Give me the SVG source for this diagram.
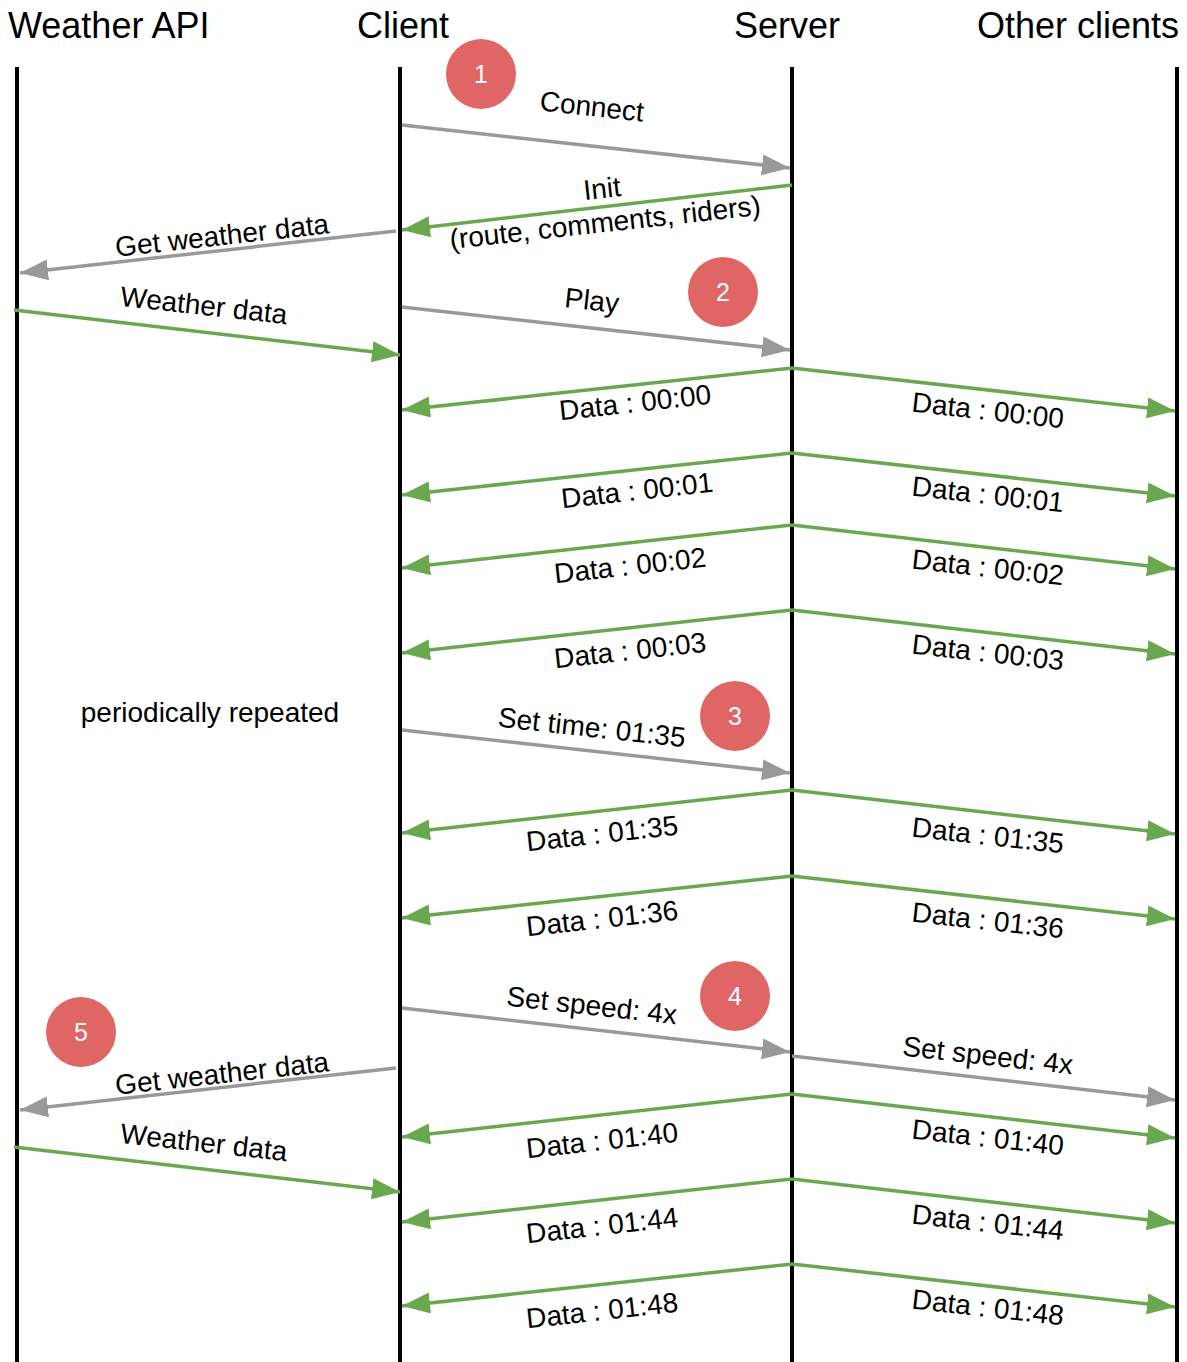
<svg xmlns="http://www.w3.org/2000/svg" width="1187" height="1362" viewBox="0 0 1187 1362">
<style>
.hdr{font-family:"Liberation Sans",Arial,sans-serif;font-size:36px;fill:#000}
.lbl{font-family:"Liberation Sans",Arial,sans-serif;font-size:28px;fill:#000;text-anchor:middle}
.life{stroke:#000;stroke-width:4;fill:none}
.g{stroke:#999999;stroke-width:3.5;fill:none;marker-end:url(#ag)}
.v{stroke:#6aa84f;stroke-width:3.5;fill:none;marker-end:url(#av)}
.circ{fill:#e06666}
.num{font-family:"Liberation Sans",Arial,sans-serif;font-size:25px;fill:#fff;text-anchor:middle}
</style>
<defs>
<marker id="ag" markerUnits="userSpaceOnUse" markerWidth="30" markerHeight="22" refX="28" refY="10.5" orient="auto"><path d="M0,0 L28,10.5 L0,21 z" fill="#999999"/></marker>
<marker id="av" markerUnits="userSpaceOnUse" markerWidth="30" markerHeight="22" refX="28" refY="10.5" orient="auto"><path d="M0,0 L28,10.5 L0,21 z" fill="#6aa84f"/></marker>
</defs>
<rect width="1187" height="1362" fill="#fff"/>
<g id="weather-api"><text class="hdr" x="8" y="38">Weather API</text><line class="life" x1="17" y1="67" x2="17" y2="1362"/></g>
<g id="client"><text class="hdr" x="357" y="38">Client</text><line class="life" x1="400" y1="67" x2="400" y2="1362"/></g>
<g id="server"><text class="hdr" x="734" y="38">Server</text><line class="life" x1="792" y1="67" x2="792" y2="1362"/></g>
<g id="other-clients"><text class="hdr" x="977" y="38">Other clients</text><line class="life" x1="1177" y1="67" x2="1177" y2="1362"/></g>
<g id="connectors">
<path class="g" d="M402,125 L790,168"/>
<text class="lbl" transform="rotate(6.3 592 106)" x="592" y="116">Connect</text>
<path class="v" d="M792,185 L402,230"/>
<text class="lbl" transform="rotate(-6.3 602 188)" x="602" y="198">Init</text>
<text class="lbl" transform="rotate(-6.3 605 222)" x="605" y="232">(route, comments, riders)</text>
<path class="g" d="M396,231 L20,273"/>
<text class="lbl" transform="rotate(-6.3 222 235)" x="222" y="245">Get weather data</text>
<path class="v" d="M14,310 L400,355"/>
<text class="lbl" transform="rotate(6.3 204 305)" x="204" y="315">Weather data</text>
<path class="g" d="M402,307 L790,350"/>
<text class="lbl" transform="rotate(6.3 592 300)" x="592" y="310">Play</text>

<path class="v" d="M792,368 L402,410"/><path class="v" d="M792,368 L1175,411"/>
<text class="lbl" transform="rotate(-6.3 635 402)" x="635" y="412">Data : 00:00</text>
<text class="lbl" transform="rotate(6.3 988 410)" x="988" y="420">Data : 00:00</text>
<path class="v" d="M792,453 L402,495"/><path class="v" d="M792,453 L1175,496"/>
<text class="lbl" transform="rotate(-6.3 637 490)" x="637" y="500">Data : 00:01</text>
<text class="lbl" transform="rotate(6.3 988 494)" x="988" y="504">Data : 00:01</text>
<path class="v" d="M792,525 L402,568"/><path class="v" d="M792,525 L1175,569"/>
<text class="lbl" transform="rotate(-6.3 630 565)" x="630" y="575">Data : 00:02</text>
<text class="lbl" transform="rotate(6.3 988 567)" x="988" y="577">Data : 00:02</text>
<path class="v" d="M792,610 L402,653"/><path class="v" d="M792,610 L1175,654"/>
<text class="lbl" transform="rotate(-6.3 630 650)" x="630" y="660">Data : 00:03</text>
<text class="lbl" transform="rotate(6.3 988 652)" x="988" y="662">Data : 00:03</text>

<text class="lbl" x="210" y="722">periodically repeated</text>
<path class="g" d="M402,730 L790,773"/>
<text class="lbl" transform="rotate(6.3 592 727)" x="592" y="737">Set time: 01:35</text>

<path class="v" d="M792,790 L402,833"/><path class="v" d="M792,790 L1175,834"/>
<text class="lbl" transform="rotate(-6.3 602 833)" x="602" y="843">Data : 01:35</text>
<text class="lbl" transform="rotate(6.3 988 835)" x="988" y="845">Data : 01:35</text>
<path class="v" d="M792,876 L402,918"/><path class="v" d="M792,876 L1175,919"/>
<text class="lbl" transform="rotate(-6.3 602 918)" x="602" y="928">Data : 01:36</text>
<text class="lbl" transform="rotate(6.3 988 920)" x="988" y="930">Data : 01:36</text>

<path class="g" d="M402,1008 L790,1052"/>
<text class="lbl" transform="rotate(6.3 592 1005)" x="592" y="1015">Set speed: 4x</text>
<path class="g" d="M792,1056 L1175,1100"/>
<text class="lbl" transform="rotate(6.3 988 1055)" x="988" y="1065">Set speed: 4x</text>
<path class="g" d="M396,1068 L20,1110"/>
<text class="lbl" transform="rotate(-6.3 222 1073)" x="222" y="1083">Get weather data</text>
<path class="v" d="M14,1147 L400,1192"/>
<text class="lbl" transform="rotate(6.3 204 1142)" x="204" y="1152">Weather data</text>

<path class="v" d="M792,1094 L402,1137"/><path class="v" d="M792,1094 L1175,1138"/>
<text class="lbl" transform="rotate(-6.3 602 1140)" x="602" y="1150">Data : 01:40</text>
<text class="lbl" transform="rotate(6.3 988 1137)" x="988" y="1147">Data : 01:40</text>
<path class="v" d="M792,1179 L402,1222"/><path class="v" d="M792,1179 L1175,1223"/>
<text class="lbl" transform="rotate(-6.3 602 1225)" x="602" y="1235">Data : 01:44</text>
<text class="lbl" transform="rotate(6.3 988 1222)" x="988" y="1232">Data : 01:44</text>
<path class="v" d="M792,1264 L402,1306"/><path class="v" d="M792,1264 L1175,1307"/>
<text class="lbl" transform="rotate(-6.3 602 1310)" x="602" y="1320">Data : 01:48</text>
<text class="lbl" transform="rotate(6.3 988 1307)" x="988" y="1317">Data : 01:48</text>
</g>
<g id="step1"><circle class="circ" cx="481" cy="74" r="35"/><text class="num" x="481" y="83">1</text></g>
<g id="step2"><circle class="circ" cx="723" cy="292" r="35"/><text class="num" x="723" y="301">2</text></g>
<g id="step3"><circle class="circ" cx="735" cy="716" r="35"/><text class="num" x="735" y="725">3</text></g>
<g id="step4"><circle class="circ" cx="735" cy="996" r="35"/><text class="num" x="735" y="1005">4</text></g>
<g id="step5"><circle class="circ" cx="81" cy="1032" r="35"/><text class="num" x="81" y="1041">5</text></g>
</svg>
